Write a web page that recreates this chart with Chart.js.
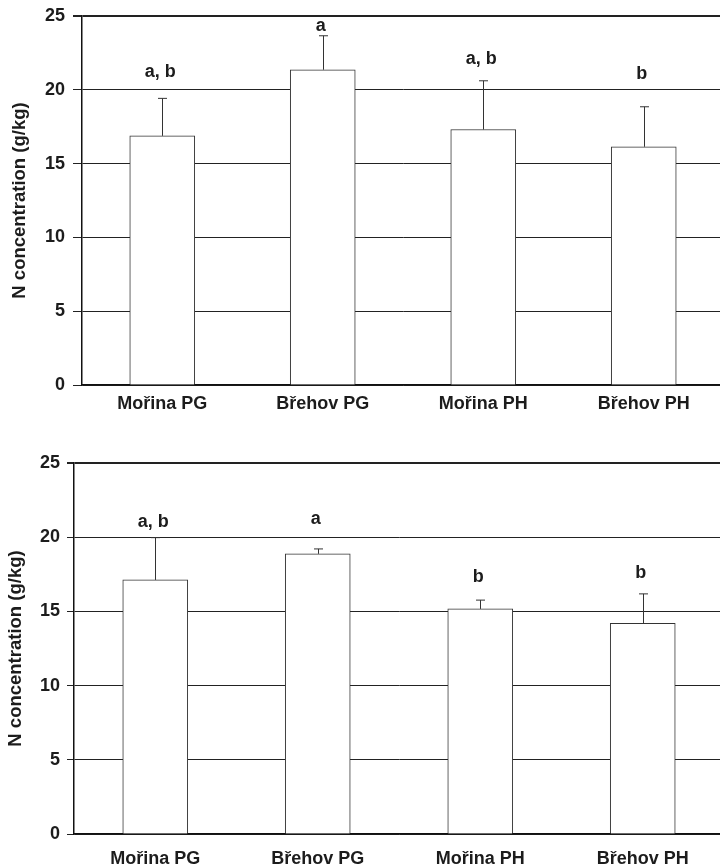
<!DOCTYPE html>
<html>
<head>
<meta charset="utf-8">
<script src="https://cdn.jsdelivr.net/npm/chart.js@4.4.1/dist/chart.umd.min.js"></script>
<style>
  html, body { margin: 0; padding: 0; background: #fff; overflow: hidden; }
  .box { position: absolute; left: 0; width: 724px; }
  #top { top: 0; height: 425px; }
  #bottom { top: 425px; height: 441px; }
</style>
</head>
<body>
<div class="box" id="top"><canvas id="chartTop"></canvas></div>
<div class="box" id="bottom"><canvas id="chartBottom"></canvas></div>
<script>
// categories shared by both panels
const categories = ['Mořina PG', 'Břehov PG', 'Mořina PH', 'Břehov PH']
const yTicks = [0, 5, 10, 15, 20, 25]

// upper panel
const topMeans = [16.88, 21.36, 17.31, 16.14]
const topErrors = [2.54, 2.30, 3.30, 2.71]
const topLetters = ['a, b', 'a', 'a, b', 'b']
const topLetterAt = [20.84, 23.98, 21.74, 20.73]

// lower panel
const bottomMeans = [17.12, 18.88, 15.17, 14.19]
const bottomErrors = [2.85, 0.33, 0.59, 1.99]
const bottomLetters = ['a, b', 'a', 'b', 'b']
const bottomLetterAt = [20.69, 20.86, 16.95, 17.28]

const FONT = 'Liberation Sans, Arial, Helvetica, sans-serif'
const INK = '#1c1c1c'

// error bars + significance letters, drawn through the chart scales
const errorBarPlugin = {
  id: 'errorBars',
  afterDatasetsDraw(chart, args, opts) {
    const ctx = chart.ctx
    const y = chart.scales.y
    const meta = chart.getDatasetMeta(0)
    ctx.save()
    meta.data.forEach((bar, i) => {
      const x = Math.round(bar.x) + 0.5
      const yMean = y.getPixelForValue(opts.means[i])
      const yTop = y.getPixelForValue(opts.means[i] + opts.errors[i])
      ctx.strokeStyle = '#333'
      ctx.lineWidth = 1
      ctx.beginPath()
      ctx.moveTo(x, yMean)
      ctx.lineTo(x, yTop)
      ctx.moveTo(x - 4.5, yTop)
      ctx.lineTo(x + 4.5, yTop)
      ctx.stroke()

      ctx.fillStyle = INK
      ctx.font = 'bold 18px ' + FONT
      ctx.textAlign = 'center'
      ctx.textBaseline = 'alphabetic'
      ctx.fillText(opts.letters[i], bar.x - 2, y.getPixelForValue(opts.letterAt[i]))
    })
    ctx.restore()
  }
}

function makeChart(id, means, errors, letters, letterAt, lay) {
  return new Chart(document.getElementById(id), {
    type: 'bar',
    data: {
      labels: categories,
      datasets: [{
        data: means,
        backgroundColor: '#fff',
        borderColor: '#333',
        borderWidth: 1,
        barThickness: 65
      }]
    },
    plugins: [errorBarPlugin],
    options: {
      responsive: true,
      maintainAspectRatio: false,
      animation: false,
      events: [],
      layout: { padding: { top: lay.padTop, left: 0, right: 0, bottom: 0 } },
      plugins: {
        legend: { display: false },
        tooltip: { enabled: false },
        errorBars: { means: means, errors: errors, letters: letters, letterAt: letterAt }
      },
      scales: {
        x: {
          grid: { display: false, drawTicks: false },
          border: { display: true, color: '#111', width: 1.5 },
          ticks: {
            color: INK,
            padding: lay.xPad,
            font: { family: FONT, size: 18, weight: 'bold' }
          },
          afterFit: (scale) => { scale.height = lay.xHeight }
        },
        y: {
          min: 0,
          max: 25,
          afterBuildTicks: (scale) => { scale.ticks = yTicks.map(v => ({ value: v })) },
          grid: {
            color: '#222',
            lineWidth: (c) => (c.tick && c.tick.value === 25 ? 2 : 1),
            tickLength: lay.tickLen,
            tickColor: '#222'
          },
          border: { display: true, color: '#111', width: 1.5 },
          ticks: {
            color: INK,
            padding: lay.yPad,
            font: { family: FONT, size: 18, weight: 'bold' }
          },
          title: {
            display: true,
            text: 'N concentration (g/kg)',
            color: INK,
            padding: { top: lay.titlePad, bottom: 0 },
            font: { family: FONT, size: 18.5, weight: 'bold' }
          },
          afterFit: (scale) => {
            scale.width = lay.yWidth
            scale.paddingTop = 0
            scale.paddingBottom = 0
          }
        }
      }
    }
  })
}

makeChart('chartTop', topMeans, topErrors, topLetters, topLetterAt,
  { padTop: 16, xHeight: 40, xPad: 8, yWidth: 82, tickLen: 9, yPad: 8, titlePad: 9 })
makeChart('chartBottom', bottomMeans, bottomErrors, bottomLetters, bottomLetterAt,
  { padTop: 38, xHeight: 32, xPad: 14, yWidth: 74, tickLen: 7, yPad: 7, titlePad: 5 })
</script>
</body>
</html>
